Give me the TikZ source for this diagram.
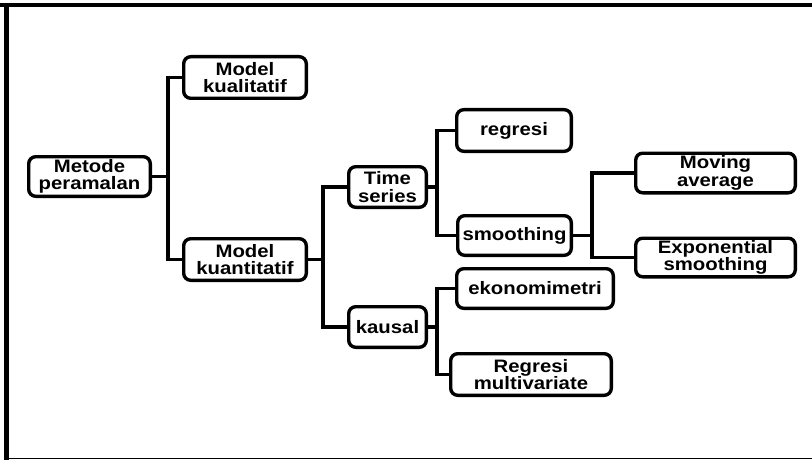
\documentclass[tikz,border=0pt]{standalone}
\usepackage{fontspec}
\setmainfont{Liberation Sans}[FakeStretch=1.13]
\begin{document}
\begin{tikzpicture}[x=1pt,y=-1pt,
  box/.style={draw, line width=3.4pt, rounded corners=7pt, inner sep=0pt,
    align=center, font=\fontsize{18}{17.5}\selectfont\bfseries},
  link/.style={line width=3.4pt}]
\useasboundingbox (0,0) rectangle (812,460);
% outer frame
\fill (0,3) rectangle (812,7);
\fill (4,3) rectangle (9,460);
\fill (4,457.8) rectangle (812,459.4);

% boxes
\node[box, minimum width=121.6pt, minimum height=39.6pt] (metode) at (89.5,176.5) {Metode\\peramalan};
\node[box, minimum width=122.6pt, minimum height=41.6pt] (kual) at (245,77.5) {Model\\kualitatif};
\node[box, minimum width=122.6pt, minimum height=41.6pt] (kuan) at (245,259.5) {Model\\kuantitatif};
\node[box, minimum width=77.6pt, minimum height=40.6pt] (time) at (387.5,187) {Time\\series};
\node[box, minimum width=77.6pt, minimum height=40.6pt] (kausal) at (387.5,327) {kausal};
\node[box, minimum width=114.6pt, minimum height=41.6pt] (regresi) at (514,130.5) {regresi};
\node[box, minimum width=113.6pt, minimum height=39.6pt] (smooth) at (514.5,235.5) {smoothing};
\node[box, minimum width=156.6pt, minimum height=39.6pt] (ekon) at (535,288.5) {ekonomimetri};
\node[box, minimum width=160.6pt, minimum height=41.6pt] (regmul) at (531,374.5) {Regresi\\multivariate};
\node[box, minimum width=159.6pt, minimum height=39.6pt] (moving) at (715.5,173) {Moving\\average};
\node[box, minimum width=159.6pt, minimum height=38.6pt] (expo) at (715.5,257.5) {Exponential\\smoothing};

% connectors
\draw[link] (metode.east) -- ++(16,0) |- (kual.west);
\draw[link] (metode.east) -- ++(16,0) |- (kuan.west);
\draw[link] (kuan.east) -- ++(15,0) |- (time.west);
\draw[link] (kuan.east) -- ++(15,0) |- (kausal.west);
\draw[link] (time.east) -- ++(9,0) |- (regresi.west);
\draw[link] (time.east) -- ++(9,0) |- (smooth.west);
\draw[link] (kausal.east) -- ++(9,0) |- (ekon.west);
\draw[link] (kausal.east) -- ++(9,0) |- (regmul.west);
\draw[link] (smooth.east) -- ++(19,0) |- (moving.west);
\draw[link] (smooth.east) -- ++(19,0) |- (expo.west);
\end{tikzpicture}
\end{document}
